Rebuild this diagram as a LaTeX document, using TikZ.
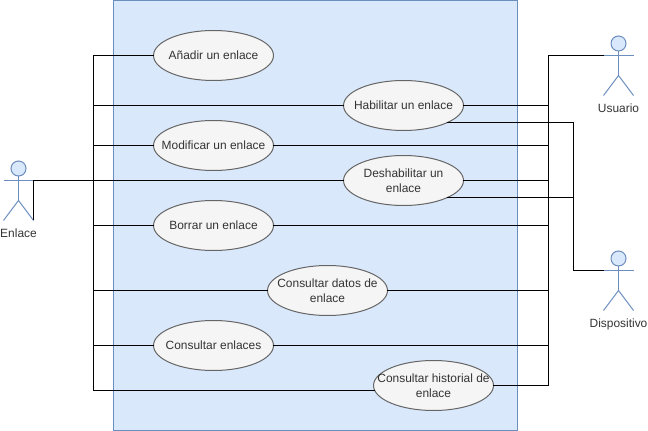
\documentclass[tikz,border=0pt]{standalone}
\usepackage{fontspec}
\setmainfont{Liberation Sans}
\usetikzlibrary{
  calc,
  shapes.geometric
}
\definecolor{boxfill}{HTML}{DAE8FC}
\definecolor{boxline}{HTML}{6C8EBF}
\definecolor{casefill}{HTML}{F5F5F5}
\definecolor{caseline}{HTML}{666666}
\definecolor{casetext}{HTML}{333333}
\tikzset{
  usecase/.style={draw=caseline, fill=casefill, ellipse, line width=0.02cm, inner sep=0pt, outer sep=0pt,
    minimum width=2.4cm, minimum height=1cm, text=casetext, font=\fontsize{6.8}{8.3}\selectfont},
  actorname/.style={text=casetext, inner sep=0pt, font=\fontsize{6.8}{8.3}\selectfont},
  actorbody/.style={draw=boxline, line width=0.02cm},
  actorhead/.style={actorbody, fill=boxfill, circle, inner sep=0pt, minimum size=0.3cm},
  link/.style={draw=black, line width=0.02cm}
}
\newcommand{\casetext}[1]{\smash{\raisebox{-2.5pt}{\makebox[0pt]{\begin{tabular}{@{}c@{}}#1\end{tabular}}}}}
% actor: name, x of the body, y of the arms
\newcommand{\actorfig}[3]{
  \node[actorhead] (#1head) at (#2, #3-12) {};
  \coordinate (#1hip) at (#2, #3+20);
  \coordinate (#1left) at (#2-15, #3);
  \coordinate (#1right) at (#2+15, #3);
  \coordinate (#1lfoot) at (#2-15, #3+40);
  \coordinate (#1rfoot) at (#2+15, #3+40);
  \draw[actorbody] (#1head) -- (#1hip);
  \draw[actorbody] (#1left) -- (#1right);
  \draw[actorbody] (#1lfoot) -- (#1hip) -- (#1rfoot);
}

\begin{document}
\begin{tikzpicture}[x=0.02cm, y=-0.02cm]
        \useasboundingbox (-0.5,-0.5) rectangle (647.5,430.5);
        \node[draw=boxline, fill=boxfill, line width=0.02cm, minimum width=8.08cm, minimum height=8.6cm, inner sep=0pt] (system) at (315, 215) {};

        \node[usecase] (add) at (213, 55) {\casetext{Añadir un enlace}};
        \node[usecase] (enable) at (403, 105) {\casetext{Habilitar un enlace}};
        \node[usecase] (edit) at (213, 145) {\casetext{Modificar un enlace}};
        \node[usecase] (disable) at (403, 180) {\casetext{Deshabilitar un\\enlace}};
        \node[usecase] (delete) at (213, 225) {\casetext{Borrar un enlace}};
        \node[usecase] (details) at (327, 290) {\casetext{Consultar datos de\\enlace}};
        \node[usecase] (list) at (213, 345) {\casetext{Consultar enlaces}};
        \node[usecase] (history) at (433, 385) {\casetext{Consultar historial de\\enlace}};

        \actorfig{link}{18}{180}
        \actorfig{user}{618}{55}
        \actorfig{device}{618}{270}
        \node[actorname] (linkname) at (18, 233) {Enlace};
        \node[actorname] (username) at (618, 108) {Usuario};
        \node[actorname] (devicename) at (618, 324) {Dispositivo};

        \coordinate (leftbus) at (93, 180);
        \coordinate (rightbus) at (548, 55);
        \coordinate (lowbus) at (573, 270);

        % Enlace
        \draw[link] (linkrfoot) -- (linkright) -- (disable.west);
        \foreach \usecase in {add, enable, edit, delete, details, list}
          \draw[link] (leftbus) -- (leftbus |- \usecase.west) -- (\usecase.west);
        \draw[link] (leftbus) -- (leftbus |- history.185) -- (history.185);

        % Usuario
        \draw[link] (userleft) -- (rightbus);
        \foreach \usecase in {enable, edit, disable, delete, details, list, history}
          \draw[link] (rightbus) -- (rightbus |- \usecase.east) -- (\usecase.east);

        % Dispositivo
        \draw[link] (deviceleft) -- (lowbus) -- (lowbus |- enable.-22) -- (enable.-22);
        \draw[link] (lowbus) -- (lowbus |- disable.-22) -- (disable.-22);
\end{tikzpicture}
\end{document}
